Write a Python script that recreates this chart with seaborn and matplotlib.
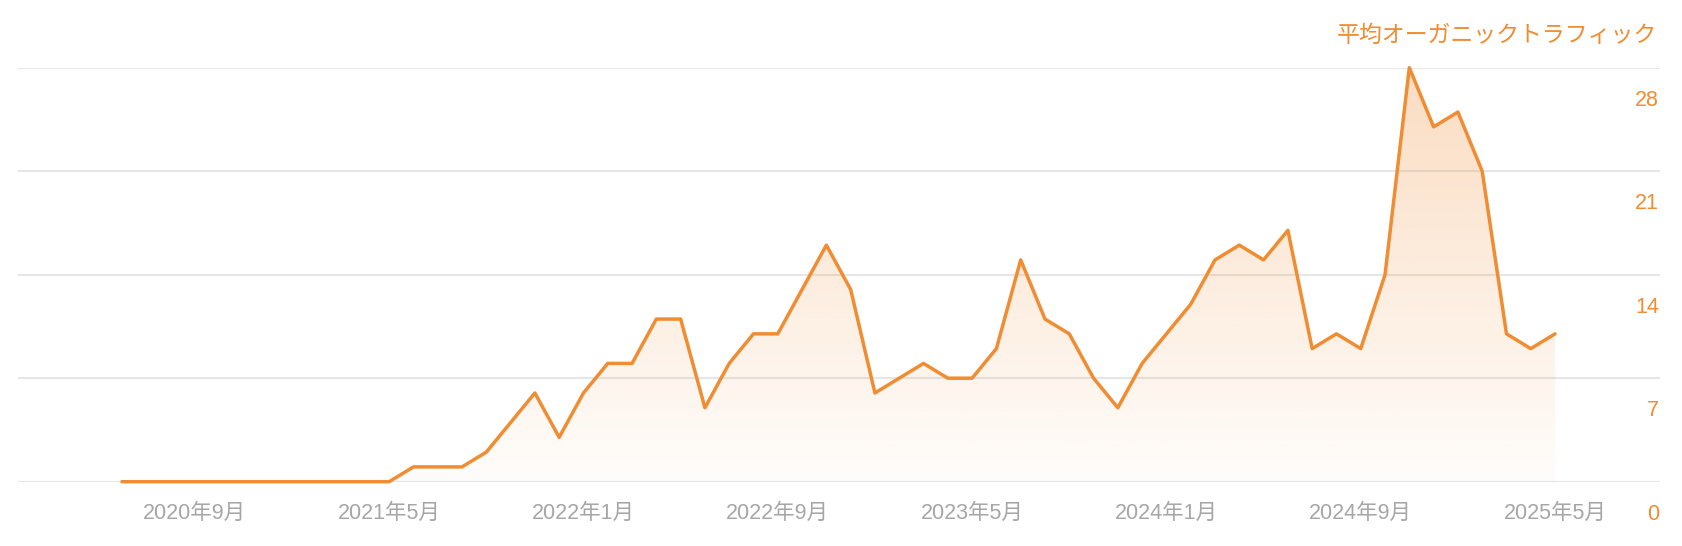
import numpy as np
import pandas as pd
import matplotlib
matplotlib.use('Agg')
import matplotlib.pyplot as plt
import matplotlib.transforms as mtransforms
import seaborn as sns

# monthly average organic traffic, 2020-06 .. 2025-05
months = pd.date_range('2020-06-01', '2025-05-01', freq='MS')
traffic = [0, 0, 0, 0, 0, 0, 0, 0, 0, 0, 0, 0,
           1, 1, 1, 2, 4, 6, 3, 6, 8, 8, 11, 11,
           5, 8, 10, 10, 13, 16, 13, 6, 7, 8, 7, 7,
           9, 15, 11, 10, 7, 5, 8, 10, 12, 15, 16, 15,
           17, 9, 10, 9, 14, 28, 24, 25, 21, 10, 9, 10]
tick_months = ['2020-09', '2021-05', '2022-01', '2022-09',
               '2023-05', '2024-01', '2024-09', '2025-05']
y_ticks = [0, 7, 14, 21, 28]
title = '平均オーガニックトラフィック'

orange = '#F08C32'
grey_text = '#A6A6A6'

sns.set_style('white')
plt.rcParams['font.family'] = ['Liberation Sans', 'Noto Sans CJK JP', 'DejaVu Sans']

df = pd.DataFrame({'month': months, 'traffic': traffic})
df['idx'] = np.arange(len(df))

fig = plt.figure(figsize=(16.82, 5.46), dpi=100)
ax = fig.add_axes([18 / 1682, 64.3 / 546, (1660 - 18) / 1682, (481.7 - 67.7) / 546])

# gradient fill under the line
poly = ax.fill_between(df['idx'], df['traffic'], 0, color='none', lw=0)
grad = np.zeros((256, 1, 4))
grad[:, 0, 0] = 240 / 255
grad[:, 0, 1] = 140 / 255
grad[:, 0, 2] = 50 / 255
grad[:, 0, 3] = np.linspace(0.02, 0.30, 256)
im = ax.imshow(grad, extent=[0, len(df) - 1, 0, 28], origin='lower',
               aspect='auto', zorder=1)
im.set_clip_path(poly.get_paths()[0], transform=ax.transData)

sns.lineplot(data=df, x='idx', y='traffic', ax=ax, color=orange,
             lw=2.5, zorder=3, clip_on=False)

ax.set_xlim(-4.28, 63.32)
ax.set_ylim(0, 28)

for y in y_ticks:
    ax.axhline(y, color='#E6E6E6', lw=1.5, zorder=0)

pos = [df.index[df['month'] == pd.Timestamp(m + '-01')][0] for m in tick_months]
labels = [f'{pd.Timestamp(m).year}年{pd.Timestamp(m).month}月' for m in tick_months]
ax.set_xticks(pos)
ax.set_xticklabels(labels, color=grey_text, fontsize=15.5)
ax.tick_params(axis='x', length=0, pad=15)

ax.set_yticks(y_ticks)
ax.set_yticklabels([str(v) for v in y_ticks], color=orange, fontsize=15.5)
ax.tick_params(axis='y', length=0, left=False, labelleft=False,
               right=False, labelright=True, pad=0)
shift = mtransforms.ScaledTranslation(-1 / 100, -30 / 100, fig.dpi_scale_trans)
for lab in ax.get_yticklabels():
    lab.set_horizontalalignment('right')
    lab.set_transform(lab.get_transform() + shift)

ax.set_xlabel('')
ax.set_ylabel('')
sns.despine(ax=ax, left=True, bottom=True, right=True, top=True)

fig.text(1657 / 1682, 1 - 35 / 546, title, color=orange, fontsize=16.5,
         ha='right', va='center')

fig.savefig('out.png', dpi=100, facecolor='white')
